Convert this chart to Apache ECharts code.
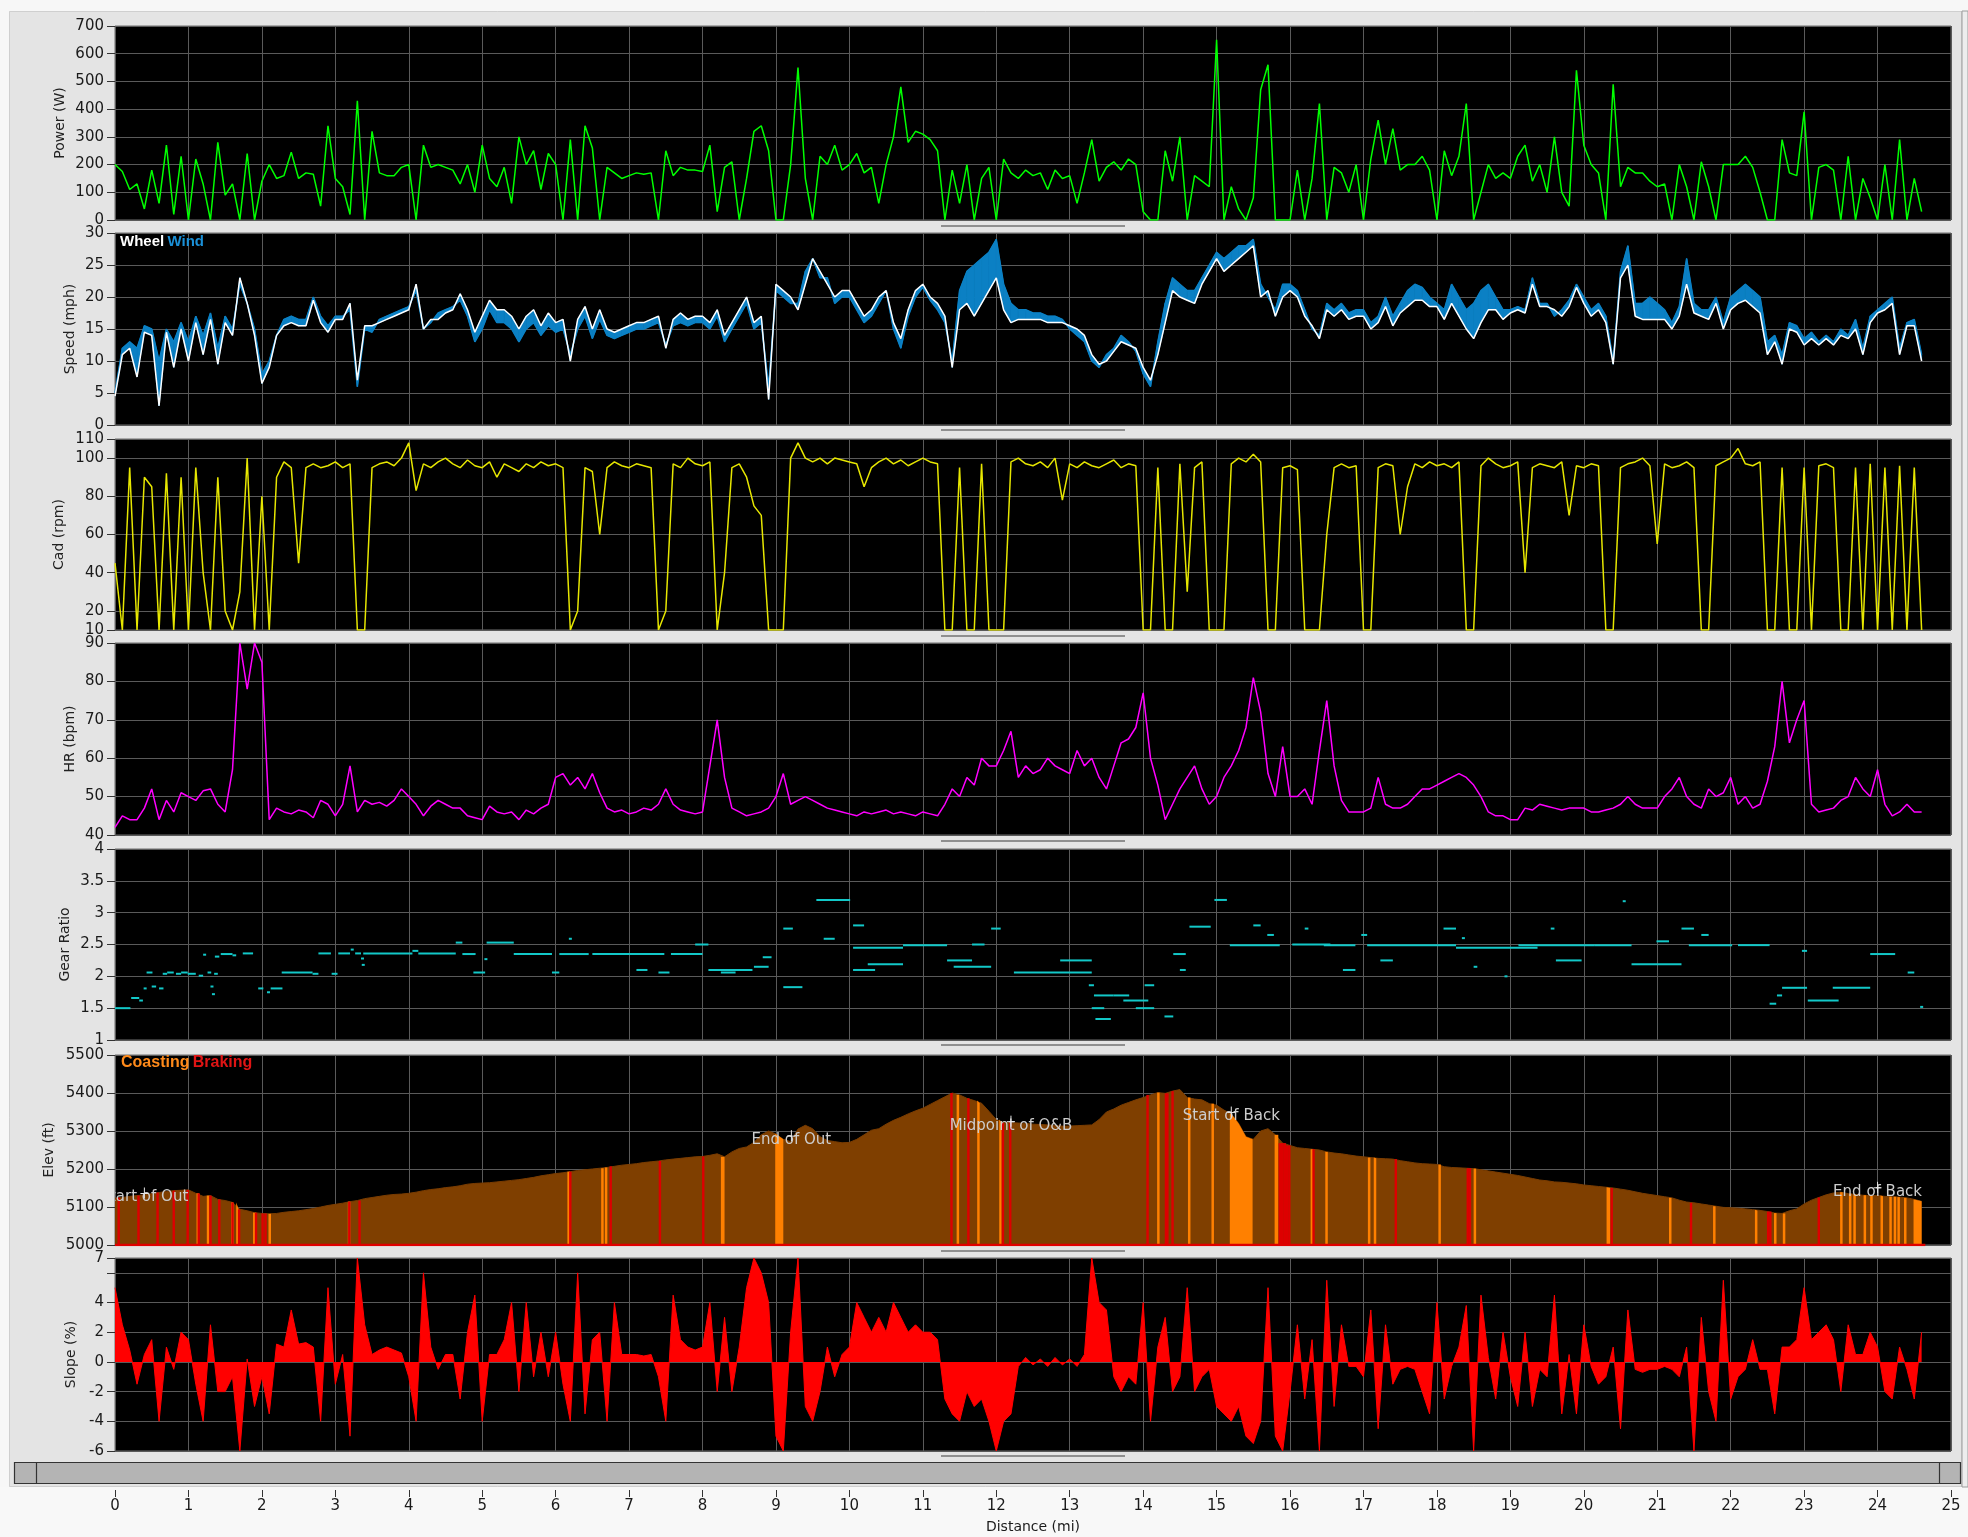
<!DOCTYPE html>
<html><head><meta charset="utf-8">
<script src="https://cdn.jsdelivr.net/npm/echarts@6/dist/echarts.min.js"></script>
<style>html,body{margin:0;padding:0;background:#f7f7f7;}#c{width:1968px;height:1537px;}</style>
</head><body><div id="c"></div>
<script>
const STEP = 0.1;
const power = [
200,175,110,130,40,180,60,270,20,230,
0,220,130,0,280,90,130,0,240,0,
140,200,150,160,245,150,170,165,50,340,
150,120,20,430,0,320,170,160,160,190,
200,0,270,190,200,190,180,130,200,100,
270,150,120,190,60,300,200,250,110,240,
200,0,290,0,340,260,0,190,170,150,
160,170,165,170,0,250,160,190,180,180,
175,270,30,190,210,0,150,320,340,250,
0,0,200,550,150,0,230,200,270,180,
200,240,170,190,60,200,300,480,280,320,
310,290,250,0,180,60,200,0,150,190,
0,220,170,150,180,160,170,110,180,150,
160,60,170,290,140,190,210,180,220,200,
30,0,0,250,140,300,0,160,140,120,
650,0,120,40,0,80,470,560,0,0,
0,180,0,150,420,0,190,170,100,200,
0,220,360,200,330,180,200,200,230,180,
0,250,160,230,420,0,100,200,150,170,
150,230,270,140,200,100,300,100,50,540,
270,200,170,0,490,120,190,170,170,140,
120,130,0,200,120,0,210,120,0,200,
200,200,230,190,100,0,0,290,170,160,
390,0,190,200,180,0,230,0,150,80,
0,200,0,290,0,150,30];
const wheelSpeed = [
4.5,11,12,7.5,14.5,14,3,14.5,9,15,
10,16,11,16.5,9.5,16,14,23,19,14,
6.5,9,14,15.5,16,15.5,15.5,19.5,16,14.5,
16.5,16.5,19,7,15.5,15.5,16,16.5,17,17.5,
18,22,15,16.5,16.5,17.5,18,20.5,18,14.5,
17,19.5,18,18,17,15,17,18,15.5,17.5,
16,16.5,10,16.5,18.5,15,18,15,14.5,15,
15.5,16,16,16.5,17,12,16.5,17.5,16.5,17,
17,16,18,14,16,18,20,16,17,4,
22,21,20,18,22,26,24,22,20,21,
21,19,17,18,20,21,16,13.5,18,21,
22,20,19,17,9,18,19,17,19,21,
23,18,16,16.5,16.5,16.5,16.5,16,16,16,
15.5,15,14,11,9.5,10,11.5,13,12.5,12,
9,7,11,16,21,20,19.5,19,22,24,
26,24,25,26,27,28,20,21,17,20,
21,20,17,15.5,13.5,18,17,18,16.5,17,
17,15,16,18.5,15.5,17.5,18.5,19.5,19.5,18.5,
18.5,16.5,19,17,15,13.5,16,18,18,16.5,
17.5,18,17.5,22,18.5,18.5,18,17,18.5,21.5,
19,17,18,16,9.5,23,25,17,16.5,16.5,
16.5,16.5,15,17,22,17.5,17,16.5,19,15,
18,19,19.5,18.5,17.5,11,13,9.5,15,14.5,
12.5,13.5,12.5,13.5,12.5,14,13.5,15,11,16,
17.5,18,19,11,15.5,15.5,10];
const windSpeed = [
5,12,13,12,15.5,15,10,15,13,16,
13,17,14,17.5,12,17,15,22,19,15,
8,10,14,16.5,17,16.5,16.5,20,17,15.5,
17,17,18,6,15,14.5,16.5,17,17.5,18,
18.5,21,15,16,17.5,18,18.5,19.5,17,13,
15,18,16,16,15,13,15,16,14,15.5,
14.5,15,11,15,17,13.5,16.5,14,13.5,14,
14.5,15,15,15.5,16,12.5,15.5,16,15.5,16,
16,15,17,13,15,17,19,15,16,6,
21,20,19,19,24,26,23,23,19,20,
20,18,16,17,19,21,15,12,17,20,
21.5,19.5,18,16,10,21,24,25,26,27,
29,22,19,18,18,17.5,17.5,17,17,16.5,
15,14,13,10,9,11,12,14,13,11.5,
8,6,13,19,23,22,21,21,23,25,
27,26,27,28,28,29,22,20,18,22,
22,21,18,15,14,19,18,19,17.5,18,
18,16,17,20,17,19,21,22,21.5,20,
19,18,22,20,18,19,21,22,20,18,
18,18.5,18,23,19,19,17,18,19.5,22,
20,18,19,17,10,24,28,19,19,20,
19,18,16,18.5,26,19,18,18,20,16,
20,21,22,21,20,13,14,11,16,15.5,
13.5,14.5,13,14,13,15,14,16.5,12,17,
18,19,20,12,16,16.5,11];
const cadence = [
45,10,95,10,90,85,10,92,10,90,
10,95,40,10,90,20,10,30,100,10,
80,10,90,98,95,45,95,97,95,96,
98,95,97,10,10,95,97,98,96,100,
108,83,97,95,98,100,97,95,99,96,
95,98,90,97,95,93,97,95,98,96,
97,95,10,20,95,93,60,95,98,96,
95,97,96,95,10,20,97,95,100,97,
96,98,10,40,95,97,90,75,70,10,
10,10,100,108,100,98,100,97,100,99,
98,97,85,95,98,100,97,99,96,98,
100,98,97,10,10,95,10,10,97,10,
10,10,98,100,97,96,98,95,100,78,
97,95,98,96,95,97,99,95,97,96,
10,10,95,10,10,97,30,95,98,10,
10,10,97,100,98,102,98,10,10,95,
96,94,10,10,10,60,95,97,95,96,
10,10,95,97,96,60,85,97,95,98,
96,97,95,98,10,10,96,100,97,95,
96,98,40,95,97,96,95,98,70,96,
95,97,96,10,10,95,97,98,100,96,
55,97,95,96,98,95,10,10,96,98,
100,105,97,96,98,10,10,95,10,10,
95,10,96,97,95,10,10,95,10,97,
10,95,10,96,10,95,10];
const heartRate = [
42,45,44,44,47,52,44,49,46,51,
50,49,51.5,52,48,46,57,90,78,90,
85,44,47,46,45.5,46.5,46,44.5,49,48,
45,48,58,46,49,48,48.5,47.5,49,52,
50,48,45,47.5,49,48,47,47,45,44.5,
44,47.5,46,45.5,46,44,46.5,45.5,47,48,
55,56,53,55,52,56,51,47,46,46.5,
45.5,46,47,46.5,48,52,48,46.5,46,45.5,
46,58,70,55,47,46,45,45.5,46,47,
50,56,48,49,50,49,48,47,46.5,46,
45.5,45,46,45.5,46,46.5,45.5,46,45.5,45,
46,45.5,45,48,52,50,55,53,60,58,
58,62,67,55,58,56,57,60,58,57,
56,62,58,60,55,52,58,64,65,68,
77,60,53,44,48,52,55,58,52,48,
50,55,58,62,68,81,72,56,50,63,
50,50,52,48,62,75,58,49,46,46,
46,47,55,48,47,47,48,50,52,52,
53,54,55,56,55,53,50,46,45,45,
44,44,47,46.5,48,47.5,47,46.5,47,47,
47,46,46,46.5,47,48,50,48,47,47,
47,50,52,55,50,48,47,52,50,51,
55,48,50,47,48,54,63,80,64,70,
75,48,46,46.5,47,49,50,55,52,50,
57,48,45,46,48,46,46];
const elevation = [
5123,5125,5128,5130,5132,5135,5138,5141,5143,5144,
5145,5136,5128,5130,5120,5117,5112,5094,5090,5085,
5083,5082,5083,5086,5088,5090,5093,5096,5100,5104,
5107,5110,5114,5117,5122,5125,5128,5131,5133,5134,
5136,5139,5143,5146,5148,5151,5153,5156,5160,5162,
5163,5164,5166,5168,5170,5172,5175,5178,5182,5185,
5188,5190,5193,5196,5198,5200,5202,5204,5207,5210,
5212,5214,5217,5219,5221,5224,5226,5228,5230,5232,
5233,5236,5240,5232,5245,5254,5258,5270,5290,5300,
5292,5278,5272,5305,5315,5306,5285,5275,5272,5269,
5270,5278,5290,5302,5306,5318,5328,5336,5345,5353,
5360,5370,5380,5390,5400,5395,5386,5380,5373,5352,
5330,5322,5322,5321,5320,5318,5317,5316,5314,5313,
5313,5314,5315,5316,5330,5350,5358,5368,5375,5382,
5388,5395,5401,5399,5405,5409,5388,5384,5382,5372,
5368,5355,5345,5320,5285,5278,5300,5306,5290,5268,
5262,5256,5254,5252,5250,5245,5242,5240,5237,5234,
5232,5230,5228,5227,5226,5222,5219,5216,5214,5213,
5212,5206,5204,5203,5202,5201,5198,5195,5192,5189,
5186,5183,5179,5175,5171,5169,5166,5165,5163,5161,
5158,5156,5154,5152,5150,5147,5144,5140,5136,5133,
5130,5127,5124,5118,5113,5111,5108,5105,5102,5099,
5098,5097,5095,5093,5091,5088,5084,5083,5090,5095,
5108,5118,5125,5132,5137,5139,5135,5133,5131,5130,
5130,5128,5127,5126,5124,5120,5115];
const slope = [
5,2.5,0.8,-1.5,0.5,1.5,-4,1,-0.5,2,
1.5,-1.5,-4,2.5,-2,-2,-1,-6,0.2,-3,
-1,-3.5,1.2,1,3.5,1.2,1.3,1,-4,5,
-1.5,0.5,-5,7,2.5,0.5,0.8,1,0.8,0.6,
-1,-4,6,1,-0.5,0.5,0.5,-2.5,2,4.5,
-4,0.5,0.5,1.5,4,-2,4,-1,2,-1,
2,-1.5,-4,6,-3.5,1.5,2,-4,4,0.5,
0.5,0.5,0.4,0.5,-1,-4,4.5,1.5,1,0.8,
1,4,-2,3,-2,1,5,7,6,4,
-5,-6,2,7,-3,-4,-2,1,-1,0.5,
1,4,3,2,3,2,4,3,2,2.5,
2,2,1.5,-2.5,-3.5,-4,-2,-3,-2.5,-4,
-6,-4,-3.5,-0.3,0.3,-0.2,0.2,-0.3,0.3,-0.2,
0.2,-0.3,0.5,7,4,3.5,-1,-2,-1,-1.5,
4,-4,1,3,-2,-1,5,-2,-1,-0.5,
-3,-3.5,-4,-3,-5,-5.5,-4,5,-5,-6,
-2,2.5,-2.5,1.5,-6,5.5,-3,2.5,-0.3,-0.3,
-1,3.5,-4.5,2.5,-1.5,-0.5,-0.3,-0.5,-2,-3.5,
4,-2.5,-0.3,1,3.8,-6,4.5,0.3,-2.5,2,
-1,-3,2,-3,-0.5,-1,4.5,-3.5,0.5,-3.5,
2.5,-0.3,-1.5,-1,1,-4.5,3.5,-0.5,-0.7,-0.5,
-0.5,-0.3,-0.5,-1,1,-6,3,-2,-4,5.5,
-2.5,-1,-0.5,1.5,-0.5,-0.5,-3.5,1,1,1.5,
5,1.5,2,2.5,1.5,-2,2.5,0.5,0.5,2,
1,-2,-2.5,1,-0.5,-2.5,2];
// gear ratio segments: [start mi, end mi, ratio]
const gearSegments = [
[0.00,0.21,1.50],[0.22,0.33,1.66],[0.33,0.38,1.62],[0.39,0.42,1.81],[0.43,0.51,2.06],[0.50,0.56,1.84],
[0.60,0.66,1.81],[0.65,0.71,2.04],[0.71,0.80,2.06],[0.83,0.90,2.04],[0.90,0.99,2.06],[0.99,1.10,2.04],
[1.14,1.20,2.01],[1.20,1.22,2.34],[1.26,1.31,2.06],[1.30,1.32,1.84],[1.32,1.34,1.72],[1.35,1.40,2.04],
[1.36,1.42,2.31],[1.44,1.60,2.35],[1.60,1.65,2.33],[1.74,1.88,2.36],[1.95,2.02,1.81],[2.07,2.09,1.75],
[2.12,2.28,1.81],[2.27,2.69,2.06],[2.69,2.77,2.04],[2.77,2.94,2.36],[2.95,3.03,2.04],[3.04,3.20,2.36],
[3.21,3.24,2.42],[3.27,3.35,2.36],[3.35,3.37,2.28],[3.36,3.38,2.18],[3.38,4.05,2.36],[4.05,4.13,2.40],
[4.13,4.64,2.36],[4.64,4.73,2.53],[4.73,4.91,2.35],[4.88,5.04,2.06],[5.03,5.05,2.27],[5.06,5.43,2.53],
[5.43,5.95,2.35],[5.95,6.05,2.06],[6.05,6.45,2.35],[6.18,6.22,2.59],[6.50,7.48,2.35],[7.10,7.25,2.10],
[7.40,7.55,2.06],[7.57,8.00,2.35],[7.90,8.08,2.50],[8.08,8.68,2.10],[8.25,8.45,2.06],[8.70,8.90,2.15],
[8.82,8.94,2.30],[9.10,9.36,1.83],[9.10,9.23,2.75],[9.55,10.01,3.20],[9.65,9.80,2.59],[10.05,10.20,2.80],
[10.05,10.73,2.45],[10.25,10.73,2.19],[10.05,10.35,2.10],[10.73,11.33,2.49],[11.33,11.67,2.25],[11.42,11.93,2.15],
[11.93,12.06,2.75],[11.67,11.84,2.50],[12.24,13.30,2.06],[12.87,13.30,2.25],[13.26,13.33,1.86],[13.33,13.60,1.70],
[13.30,13.47,1.50],[13.35,13.56,1.33],[13.73,14.07,1.62],[13.60,13.81,1.70],[13.90,14.15,1.50],[14.29,14.41,1.37],
[14.02,14.15,1.86],[14.50,14.58,2.10],[14.41,14.58,2.35],[14.63,14.92,2.78],[14.97,15.14,3.20],[15.18,15.86,2.49],
[15.50,15.60,2.80],[15.69,15.78,2.65],[16.03,16.55,2.50],[16.20,16.25,2.75],[16.46,16.89,2.49],[16.97,17.05,2.65],
[17.05,18.26,2.49],[17.23,17.40,2.25],[16.72,16.89,2.10],[18.26,19.37,2.45],[18.09,18.26,2.75],[18.34,18.38,2.60],
[18.50,18.55,2.15],[18.92,18.96,2.00],[19.11,20.14,2.49],[19.55,19.60,2.75],[19.62,19.97,2.25],[20.53,20.57,3.18],
[20.14,20.65,2.49],[20.65,21.33,2.19],[20.99,21.16,2.55],[21.33,21.50,2.75],[21.60,21.70,2.65],[21.43,22.02,2.49],
[22.10,22.53,2.49],[22.70,23.04,1.82],[22.53,22.62,1.57],[22.63,22.70,1.70],[22.97,23.04,2.40],[23.05,23.47,1.62],
[23.39,23.90,1.82],[23.90,24.24,2.35],[24.41,24.50,2.06],[24.58,24.61,1.52]];
// coasting intervals [start mi, end mi]
const coasting = [
[1.11,1.13],[1.25,1.27],[1.58,1.60],[1.65,1.68],[1.88,1.92],[2.09,2.12],[3.17,3.19],[6.16,6.18],[6.62,6.64],
[6.67,6.69],[8.25,8.30],[8.99,9.10],[11.46,11.48],[11.74,11.76],[12.04,12.07],[14.19,14.21],[14.61,14.63],
[14.93,14.95],[15.18,15.49],[15.79,15.84],[16.28,16.30],[16.48,16.50],[17.06,17.09],[17.14,17.16],[18.02,18.04],
[18.50,18.52],[20.31,20.36],[21.16,21.18],[21.76,21.79],[22.33,22.35],[22.59,22.61],[22.71,22.73],[23.49,23.51],
[23.61,23.63],[23.67,23.69],[23.81,23.83],[23.90,23.92],[24.04,24.06],[24.16,24.18],[24.22,24.24],[24.27,24.29],
[24.36,24.38],[24.49,24.60]];
// braking points (mi)
const braking = [0.05,0.32,0.58,0.80,0.99,1.14,1.30,1.42,1.60,1.69,1.92,2.01,2.05,3.19,3.33,6.20,6.75,7.42,8.01,
11.39,11.62,12.09,12.19,14.06,14.31,14.33,14.40,15.86,15.88,15.90,15.93,15.96,15.99,16.32,17.44,18.42,18.45,
20.38,21.46,22.51,22.54,23.20];
const annoText = ['Start of Out','End of Out','Midpoint of O&B','Start of Back','End of Back'];
const annoMile = [0.4, 9.21, 12.2, 15.2, 24.0];
const annoElev = [5125, 5276, 5314, 5338, 5140];
const rideEnd = 24.65;

// ---------- BUILD ----------
const N = power.length;
const dist = Array.from({length: N}, (_, i) => Math.round(i * STEP * 10) / 10);
const pair = arr => arr.map((v, i) => [dist[i], v]);
const elevAt = x => elevation[Math.max(0, Math.min(N - 1, Math.round(x / STEP)))];
// band pieces between wheel and wind speed
const speedBand = [];
for (let i = 0; i < N - 1; i++) speedBand.push([dist[i], dist[i + 1], wheelSpeed[i], wheelSpeed[i + 1], windSpeed[i], windSpeed[i + 1]]);

const FONT = '"DejaVu Sans", Verdana, sans-serif';
const PL = 115, PW = 1836;
const tops = [26, 233, 439, 643, 849, 1055, 1258];
const heights = [194, 192, 191, 192, 191, 190, 193];
const grid = tops.map((t, i) => ({left: PL, top: t, width: PW, height: heights[i], show: true,
  backgroundColor: '#000', borderColor: '#6e6e6e', borderWidth: 1, containLabel: false, outerBoundsMode: 'none'}));
grid.push({left: PL, top: 1489, width: PW, height: 1, show: false, containLabel: false, outerBoundsMode: 'none'});

const xAxis = grid.map((g, i) => ({
  type: 'value', gridIndex: i, min: 0, max: 25, interval: 1,
  axisLine: {show: false},
  axisTick: i === 7 ? {show: true, length: 7, lineStyle: {color: '#333', width: 1}} : {show: false},
  axisLabel: i === 7 ? {show: true, fontFamily: FONT, fontSize: 15, color: '#1a1a1a', margin: 9} : {show: false},
  splitLine: i < 7 ? {show: true, lineStyle: {color: '#5a5a5a', width: 1}} : {show: false},
  name: i === 7 ? 'Distance (mi)' : '', nameLocation: 'middle', nameGap: 30, nameMoveOverlap: false,
  nameTextStyle: {fontFamily: FONT, fontSize: 14, color: '#1a1a1a'}
}));

function yAx(i, o) {
  return Object.assign({
    type: 'value', gridIndex: i,
    axisLine: {show: false},
    axisTick: {show: true, length: 8, lineStyle: {color: '#333', width: 1}},
    axisLabel: {fontFamily: FONT, fontSize: 15, color: '#1a1a1a', margin: 11, showMinLabel: true, showMaxLabel: true,
      formatter: v => String(v)},
    splitLine: {show: true, lineStyle: {color: '#5a5a5a', width: 1}},
    nameLocation: 'middle', nameMoveOverlap: false,
    nameTextStyle: {fontFamily: FONT, fontSize: 14, color: '#222'}
  }, o);
}
const yAxis = [
  yAx(0, {min: 0, max: 700, interval: 100, name: 'Power (W)', nameGap: 48}),
  yAx(1, {min: 0, max: 30, interval: 5, name: 'Speed (mph)', nameGap: 38}),
  yAx(2, {min: 10, max: 110, splitNumber: 5, name: 'Cad (rpm)', nameGap: 49}),
  yAx(3, {min: 40, max: 90, interval: 10, name: 'HR (bpm)', nameGap: 38}),
  yAx(4, {min: 1, max: 4, interval: 0.5, name: 'Gear Ratio', nameGap: 43}),
  yAx(5, {min: 5000, max: 5500, interval: 100, name: 'Elev (ft)', nameGap: 59}),
  yAx(6, {min: -6, max: 7, splitNumber: 6, name: 'Slope (%)', nameGap: 37}),
  {type: 'value', gridIndex: 7, show: false, min: 0, max: 1}
];
yAxis[6].axisLabel = Object.assign({}, yAxis[6].axisLabel, {formatter: v => (v === 6 ? '' : String(v))});

const lineS = (xi, data, color, width, extra) => Object.assign({
  type: 'line', xAxisIndex: xi, yAxisIndex: xi, data: data, showSymbol: false, symbol: 'none',
  lineStyle: {color: color, width: width}, itemStyle: {color: color}, silent: true, z: 3
}, extra || {});

const series = [
  lineS(0, pair(power), '#00ff00', 1.5),
  {type: 'custom', xAxisIndex: 1, yAxisIndex: 1, data: speedBand, encode: {x: [0, 1], y: [2, 4]}, clip: true, silent: true, z: 2,
    renderItem: (p, api) => {
      const pts = [api.coord([api.value(0), api.value(2)]), api.coord([api.value(1), api.value(3)]),
                   api.coord([api.value(1), api.value(5)]), api.coord([api.value(0), api.value(4)])];
      return {type: 'polygon', shape: {points: pts}, style: {fill: '#0b80c4', stroke: '#0b80c4', lineWidth: 0.8}};
    }},
  lineS(1, pair(windSpeed), '#0b80c4', 1.5, {z: 3}),
  lineS(1, pair(wheelSpeed), '#ffffff', 1.5, {z: 4}),
  lineS(2, pair(cadence), '#e6e600', 1.5),
  lineS(3, pair(heartRate), '#ff00ff', 1.5),
  {type: 'custom', xAxisIndex: 4, yAxisIndex: 4, data: gearSegments, encode: {x: [0, 1], y: 2}, clip: true, silent: true, z: 3,
    renderItem: (p, api) => {
      const a = api.coord([api.value(0), api.value(2)]);
      const b = api.coord([api.value(1), api.value(2)]);
      return {type: 'line', shape: {x1: a[0], y1: a[1], x2: Math.max(b[0], a[0] + 3), y2: b[1]},
        style: {stroke: '#12c8c8', lineWidth: 2}};
    }},
  lineS(5, pair(elevation), '#7a3c00', 1, {areaStyle: {color: '#7f3f00', opacity: 1, origin: 'start'}, z: 2}),
  {type: 'custom', xAxisIndex: 5, yAxisIndex: 5, data: coasting, encode: {x: [0, 1]}, clip: true, silent: true, z: 3,
    renderItem: (p, api) => {
      const x0 = api.value(0), x1 = api.value(1);
      const pts = [api.coord([x0, 5000]), api.coord([x0, elevAt(x0)])];
      for (let i = 0; i < N; i++) { if (dist[i] > x0 && dist[i] < x1) pts.push(api.coord([dist[i], elevation[i]])); }
      const e1 = api.coord([x1, elevAt(x1)]);
      const b1 = api.coord([x1, 5000]);
      if (e1[0] - pts[0][0] < 2.5) { e1[0] = pts[0][0] + 2.5; b1[0] = e1[0]; }
      pts.push(e1, b1);
      return {type: 'polygon', shape: {points: pts}, style: {fill: '#ff8000'}};
    }},
  {type: 'custom', xAxisIndex: 5, yAxisIndex: 5, data: braking.map(x => [x]), encode: {x: 0}, clip: true, silent: true, z: 4,
    renderItem: (p, api) => {
      const x = api.value(0);
      const a = api.coord([x, elevAt(x)]), b = api.coord([x, 5000]);
      return {type: 'rect', shape: {x: a[0] - 1.2, y: a[1], width: 2.4, height: b[1] - a[1]}, style: {fill: '#dd0000'}};
    }},
  lineS(5, [[0, 5000], [rideEnd, 5000]], '#e00000', 2.5, {z: 5}),
  {type: 'custom', xAxisIndex: 5, yAxisIndex: 5, data: annoMile.map((m, i) => [m, annoElev[i], i]), encode: {x: 0, y: 1},
    clip: true, silent: true, z: 6,
    renderItem: (p, api) => {
      const c = api.coord([api.value(0), api.value(1)]);
      return {type: 'group', children: [
        {type: 'text', x: c[0], y: c[1], style: {text: annoText[api.value(2)], fill: '#cdcdcd',
          font: '15px "DejaVu Sans", sans-serif', align: 'center', verticalAlign: 'middle'}},
        {type: 'line', shape: {x1: c[0], y1: c[1] - 10, x2: c[0], y2: c[1] + 1}, style: {stroke: '#e6e6e6', lineWidth: 1}},
        {type: 'line', shape: {x1: c[0] - 4, y1: c[1] - 4, x2: c[0] + 4, y2: c[1] - 4}, style: {stroke: '#e6e6e6', lineWidth: 1}}
      ]};
    }},
  lineS(6, pair(slope), '#ff0000', 1, {areaStyle: {color: '#ff0000', opacity: 1}})
];

// decorative frame pieces
const splitY = [226, 430, 636, 841, 1045, 1251, 1456];
const graphic = [
  {type: 'rect', shape: {x: 0, y: 0, width: 1968, height: 11}, style: {fill: '#f7f7f7'}, z: -1},
  {type: 'rect', shape: {x: 0, y: 0, width: 9, height: 1537}, style: {fill: '#f7f7f7'}, z: -1},
  {type: 'rect', shape: {x: 0, y: 1487, width: 1968, height: 50}, style: {fill: '#f8f8f8'}, z: -1},
  {type: 'rect', shape: {x: 9.5, y: 11.5, width: 1952, height: 1475}, style: {fill: 'none', stroke: '#cfcfcf', lineWidth: 1}, z: -1},
  {type: 'rect', shape: {x: 1962, y: 11, width: 6, height: 1476}, style: {fill: '#ededed', stroke: '#9c9c9c', lineWidth: 1}, z: -1},
  {type: 'rect', shape: {x: 14.5, y: 1462.5, width: 1946, height: 21}, style: {fill: '#b4b4b4', stroke: '#333', lineWidth: 1.2}, z: -1},
  {type: 'line', shape: {x1: 36.5, y1: 1462.5, x2: 36.5, y2: 1483.5}, style: {stroke: '#333', lineWidth: 1.2}, z: -1},
  {type: 'line', shape: {x1: 1939.5, y1: 1462.5, x2: 1939.5, y2: 1483.5}, style: {stroke: '#333', lineWidth: 1.2}, z: -1}
].concat(splitY.map(y => ({type: 'line', shape: {x1: 941, y1: y, x2: 1125, y2: y}, style: {stroke: '#8f8f8f', lineWidth: 2}, z: -1})))
 .concat([
  {type: 'text', x: 120, y: 242, z: 100, style: {text: '{a|Wheel} {b|Wind}', verticalAlign: 'middle',
    rich: {a: {fill: '#ffffff', fontFamily: 'Liberation Sans', fontWeight: 'bold', fontSize: 15},
           b: {fill: '#1a8fd6', fontFamily: 'Liberation Sans', fontWeight: 'bold', fontSize: 15}}}},
  {type: 'text', x: 121, y: 1063, z: 100, style: {text: '{a|Coasting} {b|Braking}', verticalAlign: 'middle',
    rich: {a: {fill: '#ff8a1a', fontFamily: 'Liberation Sans', fontWeight: 'bold', fontSize: 16},
           b: {fill: '#e01414', fontFamily: 'Liberation Sans', fontWeight: 'bold', fontSize: 16}}}}
]);

const chart = echarts.init(document.getElementById('c'), null, {renderer: 'canvas', width: 1968, height: 1537});
chart.setOption({
  animation: false,
  backgroundColor: '#e4e4e4',
  grid: grid, xAxis: xAxis, yAxis: yAxis, series: series, graphic: graphic
});
</script></body></html>
